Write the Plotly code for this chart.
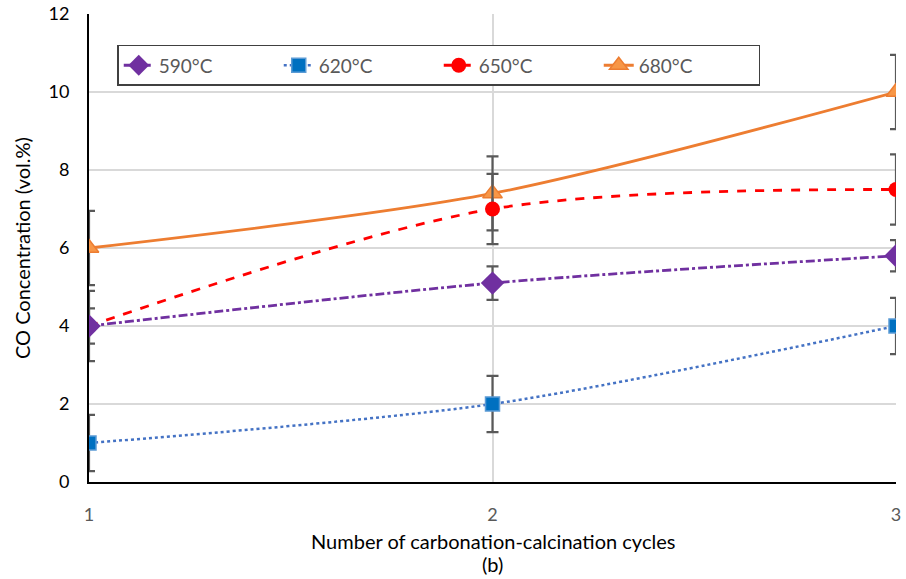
import plotly.graph_objects as go

cycles = [1, 2, 3]
s590 = [4.0, 5.1, 5.8]
s620 = [1.0, 2.0, 4.0]
s650 = [4.0, 7.0, 7.5]
s680 = [6.0, 7.4, 10.0]
err590 = [0.45, 0.43, 0.4]
err620 = [0.72, 0.72, 0.72]
err650 = [0.9, 0.9, 0.9]
err680 = [0.95, 0.95, 0.95]
names = ["590°C", "620°C", "650°C", "680°C"]
x_title = "Number of carbonation-calcination cycles"
sub_title = "(b)"
y_title = "CO Concentration (vol.%)"

FONT = "Lato, 'Open Sans', sans-serif"
ERRC = "#595959"

def err(vals):
    return dict(type="data", array=vals, visible=True, color=ERRC, thickness=2.2, width=6)

fig = go.Figure()
fig.add_trace(go.Scatter(
    x=cycles, y=s680, name=names[3], mode="lines+markers",
    line=dict(color="#ED7D31", width=2.8, shape="spline", smoothing=0.8),
    marker=dict(symbol="triangle-up", size=17, color="#F79646", line=dict(color="#ED7D31", width=1.5)),
    error_y=err(err680), legendrank=4))
fig.add_trace(go.Scatter(
    x=cycles, y=s650, name=names[2], mode="lines+markers",
    line=dict(color="#FF0000", width=2.8, dash="dash", shape="spline", smoothing=0.9),
    marker=dict(symbol="circle", size=15, color="#FF0000"),
    error_y=err(err650), legendrank=3))
fig.add_trace(go.Scatter(
    x=cycles, y=s590, name=names[0], mode="lines+markers",
    line=dict(color="#7030A0", width=2.8, dash="dashdot", shape="spline", smoothing=0.8),
    marker=dict(symbol="diamond", size=18, color="#7030A0"),
    error_y=err(err590), legendrank=1))
fig.add_trace(go.Scatter(
    x=cycles, y=s620, name=names[1], mode="lines+markers",
    line=dict(color="#4472C4", width=2.5, dash="dot", shape="spline", smoothing=0.8),
    marker=dict(symbol="square", size=14, color="#0070C0", line=dict(color="#5B9BD5", width=1.5)),
    error_y=err(err620), legendrank=2))

fig.update_layout(
    width=906, height=579,
    margin=dict(l=89, r=10, t=14, b=97),
    paper_bgcolor="white", plot_bgcolor="white",
    font=dict(family=FONT, size=18, color="#000000"),
    showlegend=True,
    legend=dict(
        orientation="h", x=0.035, y=0.934, xanchor="left", yanchor="top",
        bordercolor="#404040", borderwidth=1.5, bgcolor="white",
        font=dict(family=FONT, size=19, color="#595959"),
        entrywidth=115, entrywidthmode="pixels", traceorder="normal",
    ),
    xaxis=dict(
        range=[1, 3], tickvals=cycles, ticktext=[str(c) for c in cycles],
        showgrid=True, gridcolor="#D9D9D9", gridwidth=1.5,
        showline=True, linecolor="#000000", linewidth=2,
        zeroline=False, ticks="", ticklabelstandoff=15, automargin=False,
        tickfont=dict(family=FONT, size=18, color="#595959"),
    ),
    yaxis=dict(
        range=[0, 12], dtick=2,
        showgrid=True, gridcolor="#D9D9D9", gridwidth=1.5,
        showline=True, linecolor="#000000", linewidth=2,
        zeroline=False, ticks="", ticklabelstandoff=14, automargin=False,
        tickfont=dict(family=FONT, size=18, color="#000000"),
    ),
    annotations=[
        dict(text=x_title, xref="paper", yref="paper", x=0.5, y=-0.125,
             xanchor="center", yanchor="middle", showarrow=False,
             font=dict(family=FONT, size=20, color="#000000")),
        dict(text=sub_title, xref="paper", yref="paper", x=0.5, y=-0.175,
             xanchor="center", yanchor="middle", showarrow=False,
             font=dict(family=FONT, size=20, color="#000000")),
        dict(text=y_title, xref="paper", yref="paper", x=-0.083, y=0.5,
             xanchor="center", yanchor="middle", showarrow=False, textangle=-90,
             font=dict(family=FONT, size=20, color="#000000")),
    ],
)

fig.write_html("out.html")
